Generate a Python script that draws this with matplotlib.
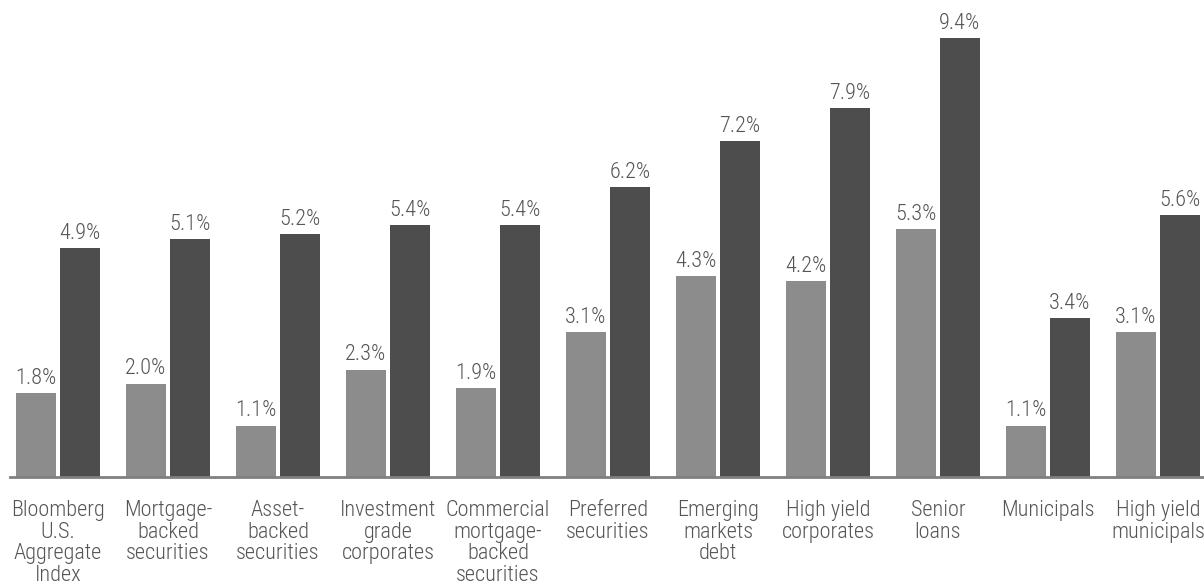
import matplotlib
matplotlib.use("Agg")
import matplotlib.pyplot as plt
import numpy as np

categories = ["Bloomberg\nU.S.\nAggregate\nIndex", "Mortgage-\nbacked\nsecurities",
              "Asset-\nbacked\nsecurities", "Investment\ngrade\ncorporates",
              "Commercial\nmortgage-\nbacked\nsecurities", "Preferred\nsecurities",
              "Emerging\nmarkets\ndebt", "High yield\ncorporates", "Senior\nloans",
              "Municipals", "High yield\nmunicipals"]
series_light = [1.8, 2.0, 1.1, 2.3, 1.9, 3.1, 4.3, 4.2, 5.3, 1.1, 3.1]
series_dark = [4.9, 5.1, 5.2, 5.4, 5.4, 6.2, 7.2, 7.9, 9.4, 3.4, 5.6]

plt.rcParams['font.family'] = ['Roboto Condensed', 'DejaVu Sans']
plt.rcParams['font.weight'] = 'light'

fig = plt.figure(figsize=(12.04, 5.86), dpi=100)
ax = fig.add_axes([10/1204, 109/586, 1 - 10/1204, 1 - 109/586])

x = np.arange(len(categories))
w = 40/110
off = 22/110
light_c = "#8c8c8c"
dark_c = "#4d4d4d"
txt_c = "#555555"
fs = 16

ax.bar(x - off, series_light, width=w, color=light_c)
ax.bar(x + off, series_dark, width=w, color=dark_c)

for xi, v in zip(x, series_light):
    ax.annotate(f"{v:.1f}%", (xi - off, v), xytext=(0, 3), textcoords="offset points",
                ha="center", va="bottom", fontsize=fs, color=txt_c, fontweight="light")
for xi, v in zip(x, series_dark):
    ax.annotate(f"{v:.1f}%", (xi + off, v), xytext=(0, 3), textcoords="offset points",
                ha="center", va="bottom", fontsize=fs, color=txt_c, fontweight="light")

for xi, c in zip(x, categories):
    ax.annotate(c, (xi, 0), xytext=(0, -16.5), textcoords="offset points",
                ha="center", va="top", fontsize=fs, color=txt_c, linespacing=1.04,
                fontweight="light", annotation_clip=False)

ax.set_xlim(-48/110, (1204 - 58)/110)
ax.set_ylim(0, 477/46.7)
for s in ["top", "right", "left"]:
    ax.spines[s].set_visible(False)
ax.spines["bottom"].set_color("#808080")
ax.spines["bottom"].set_linewidth(2)
ax.set_xticks([])
ax.set_yticks([])

fig.savefig("out.png", dpi=100)
